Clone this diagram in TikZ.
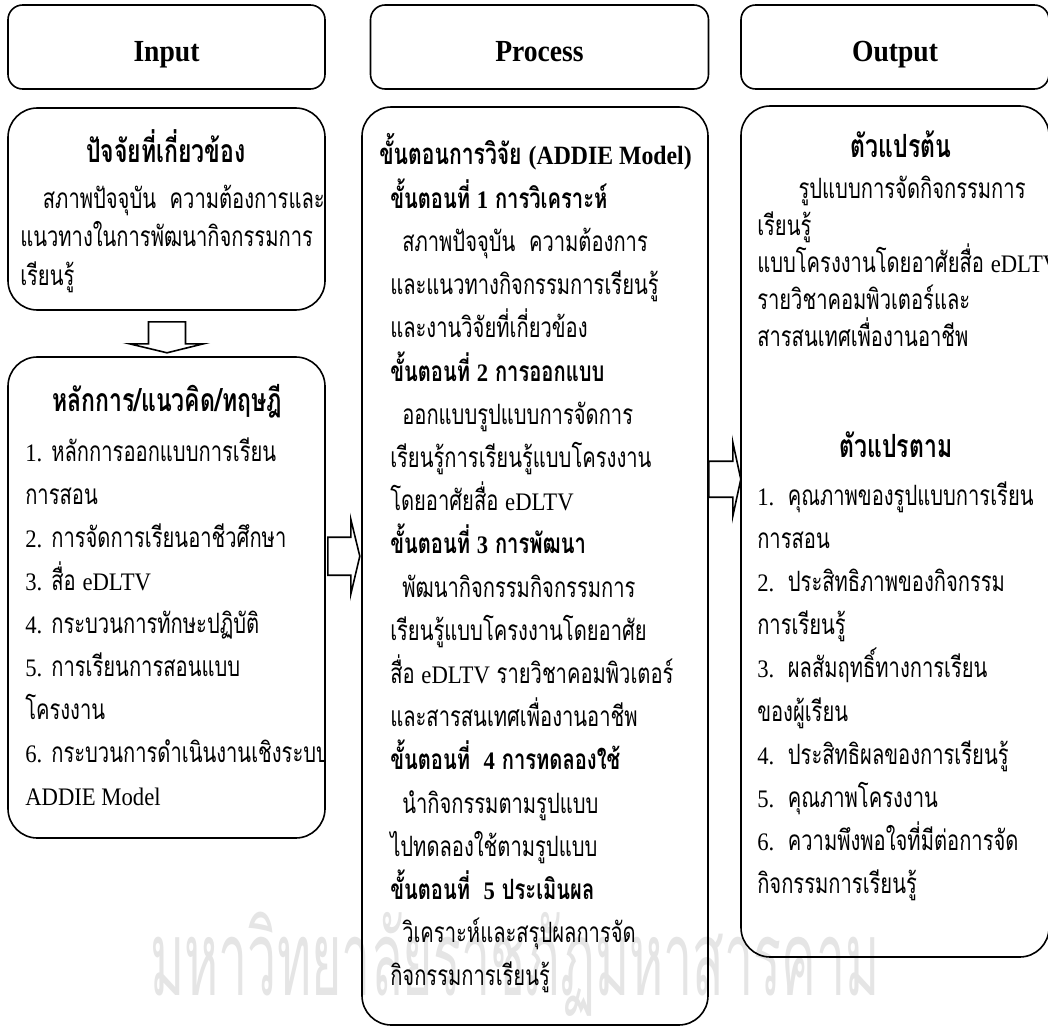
\documentclass[tikz,border=0pt]{standalone}
\usepackage{fontspec}
\setmainfont{Liberation Serif}
\newfontfamily\thf[Script=Thai,FakeStretch=0.72]{Loma}
\newfontfamily\latf[Scale=0.9,FakeStretch=0.9]{Liberation Serif}
\newfontfamily\hdf[FakeStretch=0.9]{Liberation Serif}
\newfontfamily\wmf[Script=Thai,FakeStretch=0.5]{Loma}
\newcommand\lat[1]{{\latf #1}}
\usetikzlibrary{calc}
\begin{document}
\begin{tikzpicture}[x=0.75pt,y=-0.75pt,
  hdrbox/.style={draw,line width=1.2pt,rounded corners=11pt,inner sep=0pt,
    text height=22.5pt,text depth=0pt,
    font=\hdf\bfseries\fontsize{23}{26}\selectfont},
  bigbox/.style={draw,line width=1.2pt,rounded corners=22pt,inner sep=0pt},
  ln/.style={anchor=base west,inner sep=0pt,font=\thf\fontsize{21}{24}\selectfont},
  ttl/.style={anchor=base,inner sep=0pt,font=\thf\bfseries\fontsize{24}{28}\selectfont},
  blk/.style={draw,line width=1.2pt,fill=white,line join=miter}]
\useasboundingbox (0,0) rectangle (1048,1027);

% watermark
\node[inner sep=0pt,anchor=base,text=black!10,font=\wmf\fontsize{78}{80}\selectfont] (wm) at (515,995) {มหาวิทยาลัยราชภัฏมหาสารคาม};

% headers
\node[hdrbox,minimum width=237.75pt,minimum height=63pt] (hin) at (166.5,47) {Input};
\node[hdrbox,minimum width=253.5pt,minimum height=63pt] (hpr) at (539.5,47) {Process};
\node[hdrbox,minimum width=231pt,minimum height=63pt] (hout) at (895,47) {Output};

% boxes
\node[bigbox,minimum width=237.75pt,minimum height=151.5pt] (in1) at (166.5,209) {};
\node[bigbox,minimum width=237.75pt,minimum height=360.75pt] (in2) at (166.5,597.5) {};
\node[bigbox,minimum width=259.5pt,minimum height=688.5pt] (pr) at (535,566) {};
\node[bigbox,minimum width=231pt,minimum height=638.25pt] (out) at (895,531.5) {};

% block arrows
\coordinate (da) at ($(in1.south)+(0.5,11)$);
\draw[blk] (da) ++(-18.5,0) -- ++(37,0) -- ++(0,22) -- ++(18,0) -- ++(-36.5,9) -- ++(-37.5,-9) -- ++(19,0) -- cycle;
\coordinate (ra) at ($(in2.north east)+(2,200)$);
\draw[blk] (ra) ++(0,-19) -- ++(23,0) -- ++(0,-18) -- ++(9,37) -- ++(-9,38) -- ++(0,-19) -- ++(-23,0) -- cycle;
\coordinate (rb) at ($(pr.north east)+(0,373)$);
\draw[blk] (rb) ++(0,-18) -- ++(24,0) -- ++(0,-19) -- ++(8,37) -- ++(-8,37) -- ++(0,-19) -- ++(-24,0) -- cycle;

% input box 1
\node[ttl] (t1) at (166,162) {ปัจจัยที่เกี่ยวข้อง};
\foreach \t [count=\i] in {{\hspace*{17pt}สภาพปัจจุบัน\ \ ความต้องการและ},แนวทางในการพัฒนากิจกรรมการ,เรียนรู้}
  \node[ln] (ia\i) at (20,{208+38.5*(\i-1)}) {\t};

% input box 2
\node[ttl] (t2) at (167,411) {หลักการ/แนวคิด/ทฤษฎี};
\begin{scope}
\clip (9,360) rectangle (324.5,836);
\foreach \t [count=\i] in {{\lat{1.} หลักการออกแบบการเรียน},การสอน,{\lat{2.} การจัดการเรียนอาชีวศึกษา},{\lat{3.} สื่อ \lat{eDLTV}},{\lat{4.} กระบวนการทักษะปฏิบัติ},{\lat{5.} การเรียนการสอนแบบ},โครงงาน,{\lat{6.} กระบวนการดำเนินงานเชิงระบบ},{\lat{ADDIE Model}}}
  \node[ln] (ib\i) at (25,{461+43.1*(\i-1)}) {\t};
\end{scope}

% process box
\node[ln,font=\thf\bfseries\fontsize{22}{24}\selectfont] (t3) at (379,165) {ขั้นตอนการวิจัย \lat{(ADDIE Model)}};
\foreach \t [count=\i] in {{\bfseries ขั้นตอนที่ \lat{1} การวิเคราะห์},
  {\hspace*{9pt}สภาพปัจจุบัน\ \ ความต้องการ},
  และแนวทางกิจกรรมการเรียนรู้,
  และงานวิจัยที่เกี่ยวข้อง,
  {\bfseries ขั้นตอนที่ \lat{2} การออกแบบ},
  {\hspace*{9pt}ออกแบบรูปแบบการจัดการ},
  เรียนรู้การเรียนรู้แบบโครงงาน,
  {โดยอาศัยสื่อ \lat{eDLTV}},
  {\bfseries ขั้นตอนที่ \lat{3} การพัฒนา},
  {\hspace*{9pt}พัฒนากิจกรรมกิจกรรมการ},
  เรียนรู้แบบโครงงานโดยอาศัย,
  {สื่อ \lat{eDLTV} รายวิชาคอมพิวเตอร์},
  และสารสนเทศเพื่องานอาชีพ,
  {\bfseries ขั้นตอนที่\ \ \lat{4} การทดลองใช้},
  {\hspace*{9pt}นำกิจกรรมตามรูปแบบ},
  ไปทดลองใช้ตามรูปแบบ,
  {\bfseries ขั้นตอนที่\ \ \lat{5} ประเมินผล},
  {\hspace*{9pt}วิเคราะห์และสรุปผลการจัด},
  กิจกรรมการเรียนรู้}
  \node[ln] (pa\i) at (390,{165+43.2*\i}) {\t};

% output box
\node[ttl] (t4) at (901,157) {ตัวแปรต้น};
\foreach \t [count=\i] in {{\hspace*{31pt}รูปแบบการจัดกิจกรรมการ},เรียนรู้,{แบบโครงงานโดยอาศัยสื่อ \lat{eDLTV}},รายวิชาคอมพิวเตอร์และ,สารสนเทศเพื่องานอาชีพ}
  \node[ln] (oa\i) at (757,{198+37*(\i-1)}) {\t};
\node[ttl] (t5) at (896,457) {ตัวแปรตาม};
\foreach \t [count=\i] in {{\lat{1.}\ \ คุณภาพของรูปแบบการเรียน},การสอน,{\lat{2.}\ \ ประสิทธิภาพของกิจกรรม},การเรียนรู้,{\lat{3.}\ \ ผลสัมฤทธิ์ทางการเรียน},ของผู้เรียน,{\lat{4.}\ \ ประสิทธิผลของการเรียนรู้},{\lat{5.}\ \ คุณภาพโครงงาน},{\lat{6.}\ \ ความพึงพอใจที่มีต่อการจัด},กิจกรรมการเรียนรู้}
  \node[ln] (ob\i) at (757,{505+43.2*(\i-1)}) {\t};
\end{tikzpicture}
\end{document}
